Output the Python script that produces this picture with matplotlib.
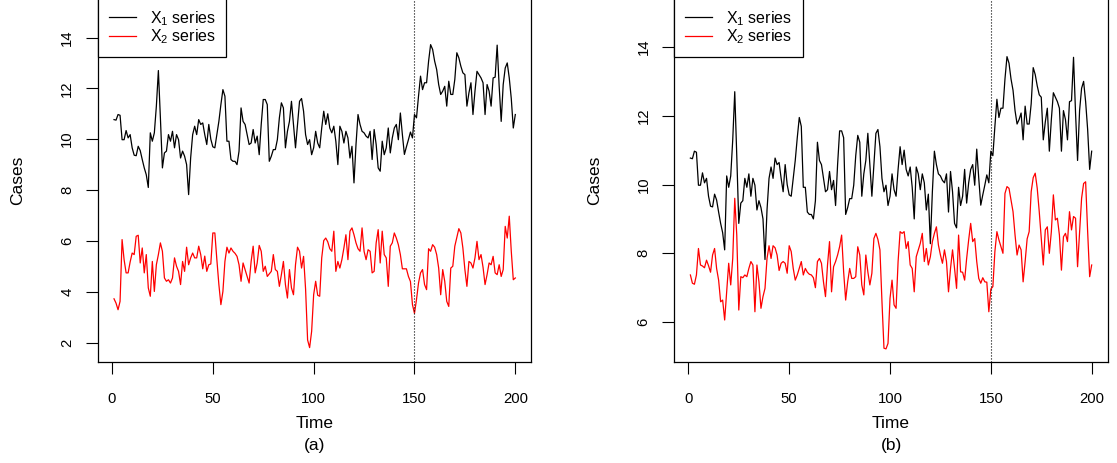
import matplotlib.pyplot as plt

plt.rcParams['font.family'] = 'Liberation Sans'

time = list(range(1, 201))

# first series, shared by both panels
x1 = [10.77, 10.75, 10.97, 10.94, 9.98, 9.98, 10.34, 10.05, 10.18, 9.66,
      9.37, 9.35, 9.72, 9.55, 9.20, 8.87, 8.60, 8.10, 10.25, 9.92,
      10.25, 11.30, 12.70, 10.84, 8.87, 9.46, 9.53, 10.18, 9.92, 10.31,
      9.66, 10.18, 9.98, 9.26, 9.53, 9.33, 9.00, 7.82, 9.26, 10.18,
      10.51, 10.18, 10.77, 10.58, 10.64, 10.18, 9.79, 10.58, 10.00, 9.70,
      9.66, 10.18, 10.70, 11.36, 11.95, 11.69, 9.92, 9.92, 9.20, 9.13,
      9.13, 9.00, 9.53, 11.23, 10.70, 10.58, 10.18, 9.79, 9.85, 10.38,
      9.85, 10.12, 9.39, 10.58, 11.56, 11.56, 11.36, 9.13, 9.33, 9.59,
      9.59, 9.98, 10.84, 11.43, 11.23, 9.66, 10.31, 10.70, 11.49, 10.58,
      9.66, 10.58, 11.49, 11.60, 11.10, 10.18, 9.79, 9.98, 9.39, 9.66,
      10.31, 9.85, 9.66, 10.44, 11.10, 10.58, 11.00, 10.44, 10.25, 10.51,
      9.92, 9.00, 10.51, 10.31, 9.85, 10.31, 10.05, 9.26, 9.72, 8.28,
      9.79, 10.97, 10.58, 10.31, 10.25, 10.12, 10.05, 10.31, 9.20, 10.38,
      9.79, 8.87, 8.74, 9.92, 9.39, 9.66, 10.44, 9.46, 10.05, 10.44,
      10.58, 9.98, 11.03, 10.18, 9.40, 9.70, 9.98, 10.28, 10.05, 10.97,
      10.84, 11.69, 12.48, 11.95, 12.22, 12.22, 13.07, 13.72, 13.53, 13.07,
      12.74, 12.15, 11.76, 11.89, 12.08, 11.30, 12.28, 11.76, 11.76, 12.35,
      13.40, 13.20, 12.87, 12.61, 12.54, 11.30, 11.82, 12.22, 10.97, 11.89,
      12.67, 12.54, 12.41, 12.22, 10.97, 12.15, 11.89, 11.30, 12.41, 12.44,
      13.70, 12.08, 10.70, 12.15, 12.80, 13.00, 12.41, 11.60, 10.44, 10.97]

# second series, scenario (a)
x2_a = [3.72, 3.55, 3.29, 3.62, 6.05, 5.26, 4.74, 4.74, 5.17, 5.52,
        5.46, 6.18, 6.22, 5.13, 5.72, 4.74, 5.46, 4.15, 3.82, 5.19,
        4.01, 5.06, 5.46, 5.92, 5.59, 4.54, 4.41, 4.47, 4.34, 4.54,
        5.33, 5.00, 4.80, 4.28, 5.19, 4.80, 5.75, 5.06, 5.33, 5.52,
        5.33, 5.33, 5.79, 5.46, 4.90, 5.40, 4.80, 5.06, 5.09, 6.31,
        6.31, 5.26, 4.28, 3.49, 4.01, 5.19, 5.75, 5.52, 5.72, 5.59,
        5.51, 5.39, 5.06, 4.41, 5.13, 4.87, 4.60, 4.34, 5.19, 5.79,
        4.74, 5.13, 5.82, 5.59, 4.80, 5.00, 4.60, 4.70, 4.80, 5.46,
        4.87, 4.80, 4.21, 4.67, 5.19, 4.28, 3.75, 4.87, 4.15, 3.88,
        5.06, 5.75, 5.59, 4.93, 5.39, 4.10, 2.10, 1.80, 2.44, 3.88,
        4.41, 3.86, 3.82, 5.33, 6.01, 6.11, 5.96, 5.69, 5.59, 6.38,
        4.80, 5.19, 4.93, 5.26, 5.72, 6.24, 5.26, 6.38, 6.51, 6.24,
        5.92, 5.69, 5.59, 6.51, 5.59, 5.26, 5.65, 5.59, 4.74, 4.80,
        5.92, 6.44, 5.13, 6.38, 5.46, 5.33, 4.21, 5.79, 5.92, 6.31,
        6.11, 5.85, 5.46, 4.90, 4.90, 4.90, 4.60, 4.40, 3.49, 3.15,
        3.69, 4.34, 4.74, 4.87, 4.28, 4.08, 5.69, 5.59, 5.85, 5.75,
        5.46, 4.93, 3.88, 4.87, 4.41, 3.62, 3.42, 4.93, 5.00, 5.79,
        6.14, 6.48, 6.31, 5.72, 4.87, 4.21, 5.19, 5.13, 4.93, 5.33,
        5.98, 5.26, 5.46, 4.96, 4.28, 4.67, 5.13, 5.06, 5.39, 4.74,
        4.67, 5.06, 4.60, 4.87, 6.57, 6.11, 6.97, 5.59, 4.47, 4.54]

# second series, scenario (b)
x2_b = [7.37, 7.13, 7.10, 7.37, 8.14, 7.66, 7.63, 7.58, 7.80, 7.64,
        7.45, 7.95, 8.14, 7.56, 7.22, 6.59, 6.64, 6.06, 6.88, 7.71,
        7.08, 7.85, 9.60, 8.53, 6.35, 7.32, 7.29, 7.37, 7.32, 7.56,
        7.76, 7.66, 6.30, 7.66, 7.17, 6.40, 6.74, 6.98, 7.85, 8.22,
        7.85, 8.22, 8.16, 7.95, 7.50, 7.71, 7.76, 7.71, 7.42, 8.22,
        8.05, 7.56, 7.22, 7.37, 7.56, 7.76, 7.37, 7.56, 7.45, 7.39,
        7.37, 7.29, 7.00, 7.76, 7.85, 7.71, 7.17, 6.74, 7.66, 8.34,
        6.88, 7.61, 7.76, 7.95, 8.19, 8.53, 7.46, 6.64, 7.17, 7.56,
        7.27, 7.27, 7.32, 8.19, 7.95, 7.08, 6.79, 7.95, 7.46, 7.08,
        7.42, 8.43, 8.58, 8.40, 8.10, 6.60, 5.24, 5.22, 5.38, 6.69,
        7.22, 6.50, 6.40, 7.76, 8.63, 8.58, 8.63, 8.14, 8.34, 7.66,
        7.56, 6.88, 7.90, 8.10, 8.29, 8.58, 7.76, 8.14, 7.66, 7.90,
        8.34, 8.58, 8.77, 8.24, 7.95, 7.71, 8.10, 7.76, 6.88, 7.56,
        8.10, 7.56, 6.98, 8.53, 7.46, 7.45, 7.22, 7.85, 8.39, 8.87,
        8.34, 8.43, 7.76, 7.27, 7.13, 7.29, 7.17, 7.16, 6.30, 6.96,
        7.03, 8.05, 8.63, 8.39, 8.19, 8.00, 9.74, 9.94, 9.89, 9.55,
        9.21, 8.53, 7.95, 8.24, 8.10, 7.17, 7.76, 8.42, 8.63, 9.79,
        10.20, 10.33, 9.89, 9.21, 8.43, 7.66, 8.68, 8.77, 8.00, 8.63,
        9.70, 8.97, 9.02, 8.53, 7.51, 8.48, 8.58, 8.34, 9.21, 8.68,
        9.07, 9.02, 7.61, 8.63, 9.60, 10.03, 10.08, 8.63, 7.32, 7.66]

change_point = 150
label_x1 = r'X$_{\mathregular{1}}$ series'
label_x2 = r'X$_{\mathregular{2}}$ series'

fig = plt.figure(figsize=(11.17, 4.63), dpi=100)

panels = [
    ("(a)", x2_a, [0.0877, 0.2181, 0.3880, 0.7862], (1.233, 15.554), [2, 4, 6, 8, 10, 12, 14]),
    ("(b)", x2_b, [0.6037, 0.2181, 0.3880, 0.7862], (4.838, 15.425), [6, 8, 10, 12, 14]),
]

for tag, x2, rect, ylim, yticks in panels:
    ax = fig.add_axes(rect)
    ax.plot(time, x1, color='black', linewidth=0.9, label=label_x1)
    ax.plot(time, x2, color='red', linewidth=0.9, label=label_x2)
    ax.axvline(change_point, color='black', linewidth=0.8, linestyle=(0, (1, 1.7)))

    ax.set_xlim(-6.96, 207.96)
    ax.set_ylim(*ylim)
    ax.set_xticks([0, 50, 100, 150, 200])
    ax.set_yticks(yticks)
    ax.tick_params(direction='out', length=8.6, width=0.8, labelsize=10.7, colors='black')
    ax.tick_params(axis='x', pad=13)
    ax.tick_params(axis='y', pad=8.5)
    for lab in ax.get_yticklabels():
        lab.set_rotation(90)
        lab.set_va('center')
    for spine in ax.spines.values():
        spine.set_linewidth(0.9)

    ax.set_xlabel('Time', fontsize=12.5)
    ax.xaxis.set_label_coords(0.5, -0.1676)
    ax.xaxis.label.set_va('center')
    ax.set_ylabel('Cases', fontsize=12.5)
    ax.yaxis.set_label_coords(-0.1846, 0.5)
    ax.yaxis.label.set_va('center')
    ax.text(0.5, -0.228, tag, transform=ax.transAxes, ha='center', va='center', fontsize=12.5)

    leg = ax.legend(loc='upper left', bbox_to_anchor=(0, 1), borderaxespad=0,
                    fontsize=11.5, handlelength=1.7, handletextpad=0.85,
                    borderpad=0.68, labelspacing=-0.02, fancybox=False,
                    edgecolor='black', framealpha=1)
    leg.get_frame().set_linewidth(0.9)

fig.savefig('out.png', dpi=100)
